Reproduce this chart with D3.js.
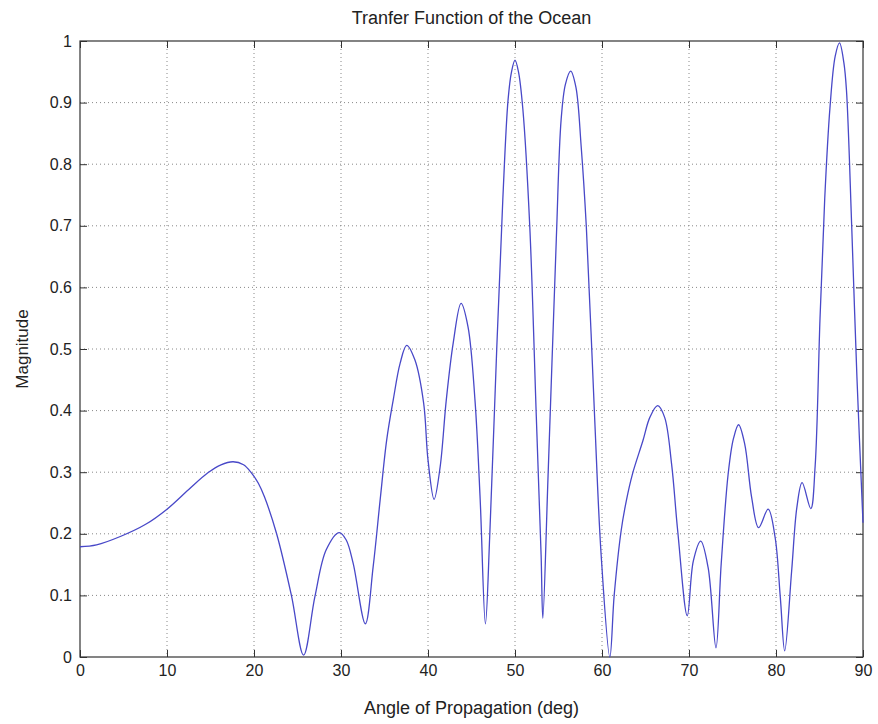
<!DOCTYPE html>
<html>
<head>
<meta charset="utf-8">
<script src="https://cdn.jsdelivr.net/npm/d3@7"></script>
<style>
  body { margin: 0; background: #fff; }
  text { font-family: "Liberation Sans", Arial, sans-serif; fill: #222; }
</style>
</head>
<body>
<div id="chart"></div>
<script>
// angle (deg) and magnitude
const angles = [0, 1.9, 4.7, 7.5, 10, 12.5, 14.7, 16.2, 17.6, 18.8, 19.7, 20.5, 21.2, 22.6, 24.3, 25.7,
  27.0, 28.3, 29.8, 30.6, 31.4, 32.8, 33.7, 34.5, 35.25, 36.0, 36.8, 37.55, 38.5, 39.5, 40.0, 40.7,
  41.4, 42.1, 42.9, 43.8, 44.6, 45.4, 46.0, 46.6, 47.1, 47.9, 48.6, 49.2, 49.6, 50.0, 50.4, 50.9, 51.7, 52.45,
  53.0, 53.2, 53.8, 54.75, 55.3, 55.8, 56.4, 57.0, 57.6, 58.2, 59.15, 59.9, 60.9, 61.4, 62.2, 62.8, 63.5, 64.7,
  65.5, 66.4, 67.2, 68.0, 68.7, 69.8, 70.5, 71.35, 72.2, 73.1, 73.7, 74.5, 75.1, 75.7, 76.4, 77.2,
  78.0, 79.1, 79.9, 80.5, 81.0, 81.8, 82.4, 83.0, 84.0, 84.5, 85.06, 85.6, 86.2, 86.8, 87.3, 87.8, 88.1, 88.7,
  89.3, 90];
const magnitude = [0.179, 0.182, 0.196, 0.215, 0.240, 0.272, 0.299, 0.312, 0.317, 0.312, 0.299, 0.282, 0.26, 0.20, 0.10, 0.003,
  0.098, 0.174, 0.202, 0.190, 0.152, 0.054, 0.147, 0.255, 0.352, 0.417, 0.477, 0.506, 0.482, 0.412, 0.32, 0.256,
  0.309, 0.417, 0.51, 0.574, 0.536, 0.417, 0.255, 0.054, 0.198, 0.50, 0.743, 0.904, 0.950, 0.969, 0.950, 0.890, 0.698, 0.39,
  0.166, 0.063, 0.294, 0.679, 0.872, 0.930, 0.951, 0.925, 0.830, 0.698, 0.39, 0.166, 0.0, 0.10, 0.205, 0.254, 0.297, 0.351,
  0.389, 0.408, 0.389, 0.313, 0.205, 0.067, 0.156, 0.188, 0.145, 0.015, 0.151, 0.297, 0.354, 0.377, 0.346, 0.259,
  0.210, 0.240, 0.194, 0.096, 0.01, 0.14, 0.243, 0.283, 0.241, 0.310, 0.55, 0.744, 0.891, 0.975, 0.997, 0.965, 0.920, 0.70,
  0.455, 0.218];

const xTicks = [0, 10, 20, 30, 40, 50, 60, 70, 80, 90];
const yTicks = [0, 0.1, 0.2, 0.3, 0.4, 0.5, 0.6, 0.7, 0.8, 0.9, 1];

const data = angles.map((a, i) => ({ a: a, m: magnitude[i] }));

const W = 878, H = 724;
const margin = { top: 41, right: 15, bottom: 67, left: 80 };
const width = W - margin.left - margin.right;
const height = H - margin.top - margin.bottom;

const svg = d3.select("#chart").append("svg")
    .attr("width", W)
    .attr("height", H);

const g = svg.append("g")
    .attr("transform", `translate(${margin.left},${margin.top})`);

const x = d3.scaleLinear().domain([0, 90]).range([0, width]);
const y = d3.scaleLinear().domain([0, 1]).range([height, 0]);

// dotted grid
g.append("g").selectAll("line")
    .data(xTicks.slice(1, -1))
    .join("line")
    .attr("x1", d => x(d)).attr("x2", d => x(d))
    .attr("y1", 0).attr("y2", height)
    .attr("stroke", "#888").attr("stroke-width", 1)
    .attr("stroke-dasharray", "1,3");

g.append("g").selectAll("line")
    .data(yTicks.slice(1, -1))
    .join("line")
    .attr("y1", d => y(d)).attr("y2", d => y(d))
    .attr("x1", 0).attr("x2", width)
    .attr("stroke", "#888").attr("stroke-width", 1)
    .attr("stroke-dasharray", "1,3");

// axes with inward ticks
g.append("g")
    .attr("transform", `translate(0,${height})`)
    .call(d3.axisBottom(x).tickValues(xTicks).tickSizeInner(-7).tickSizeOuter(0).tickPadding(8));
g.append("g")
    .call(d3.axisLeft(y).tickValues(yTicks).tickSizeInner(-7).tickSizeOuter(0).tickPadding(8)
        .tickFormat(d => d === 0 || d === 1 ? d3.format("d")(d) : d3.format(".1f")(d)));
g.append("g")
    .call(d3.axisTop(x).tickValues(xTicks).tickSizeInner(-7).tickSizeOuter(0).tickFormat(""));
g.append("g")
    .attr("transform", `translate(${width},0)`)
    .call(d3.axisRight(y).tickValues(yTicks).tickSizeInner(-7).tickSizeOuter(0).tickFormat(""));

g.selectAll(".domain").remove();
g.selectAll(".tick line").attr("stroke", "#333");
g.selectAll(".tick text").style("font-size", "16px").attr("fill", "#222");

// box
g.append("rect")
    .attr("width", width).attr("height", height)
    .attr("fill", "none").attr("stroke", "#333").attr("stroke-width", 1.2);

// curve
const line = d3.line()
    .x(d => x(d.a))
    .y(d => y(d.m))
    .curve(d3.curveCatmullRom.alpha(0.5));

g.append("path")
    .datum(data)
    .attr("fill", "none")
    .attr("stroke", "#4848c8")
    .attr("stroke-width", 1.3)
    .attr("d", line);

// labels
svg.append("text")
    .attr("x", margin.left + width / 2).attr("y", 24)
    .attr("text-anchor", "middle")
    .style("font-size", "18px")
    .text("Tranfer Function of the Ocean");

svg.append("text")
    .attr("x", margin.left + width / 2).attr("y", 714)
    .attr("text-anchor", "middle")
    .style("font-size", "18px")
    .text("Angle of Propagation (deg)");

svg.append("text")
    .attr("transform", `translate(28,${margin.top + height / 2}) rotate(-90)`)
    .attr("text-anchor", "middle")
    .style("font-size", "17px")
    .text("Magnitude");
</script>
</body>
</html>
